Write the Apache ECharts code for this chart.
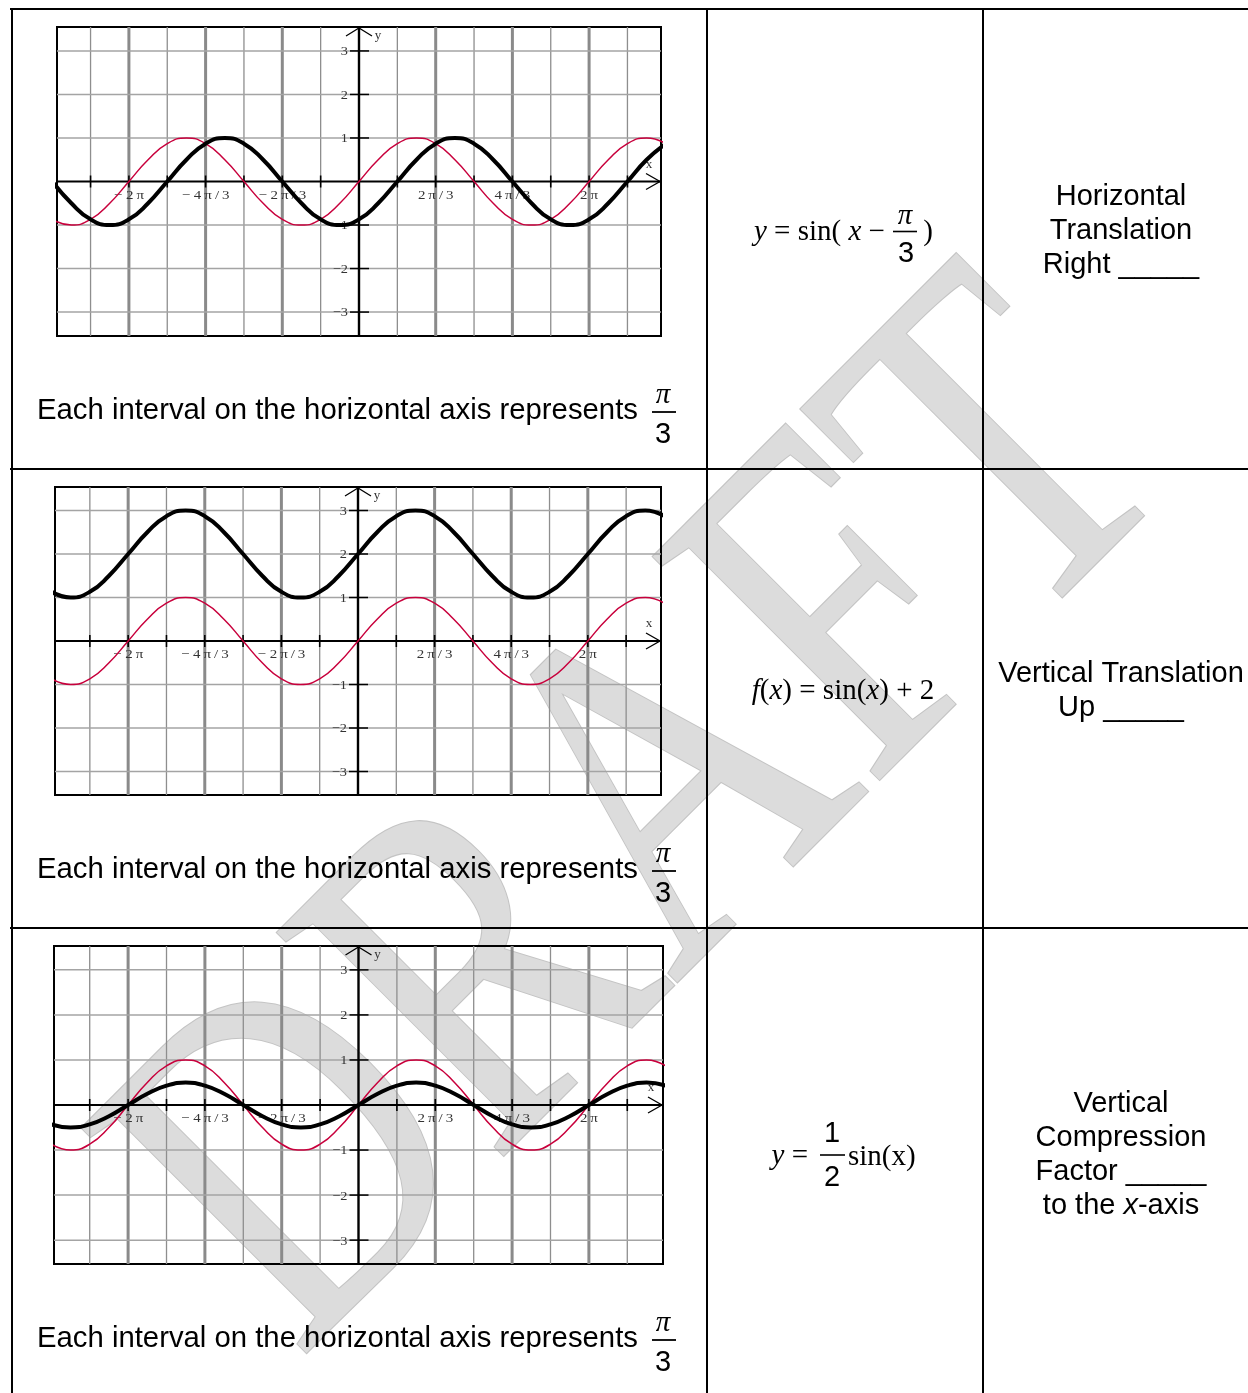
<!DOCTYPE html>
<html>
<head>
<meta charset="utf-8">
<title>Transformations of y = sin(x)</title>
<script src="https://cdn.jsdelivr.net/npm/echarts@6/dist/echarts.min.js"></script>
<style>
  html, body { margin: 0; padding: 0; background: #fff; }
  #sheet { width: 1248px; height: 1393px; }
</style>
</head>
<body>
<div id="sheet"></div>
<script>
// x positions in units of pi/3 (one grid interval each)
const xUnits = [-8,-7.5,-7,-6.5,-6,-5.5,-5,-4.5,-4,-3.5,-3,-2.5,-2,-1.5,-1,-0.5,0,0.5,1,1.5,2,2.5,3,3.5,4,4.5,5,5.5,6,6.5,7,7.5,8];
// parent curve y = sin(x)
const sinValues = [-0.87,-1,-0.87,-0.5,0,0.5,0.87,1,0.87,0.5,0,-0.5,-0.87,-1,-0.87,-0.5,0,0.5,0.87,1,0.87,0.5,0,-0.5,-0.87,-1,-0.87,-0.5,0,0.5,0.87,1,0.87];
// y = sin(x - pi/3)
const shiftedValues = [0,-0.5,-0.87,-1,-0.87,-0.5,0,0.5,0.87,1,0.87,0.5,0,-0.5,-0.87,-1,-0.87,-0.5,0,0.5,0.87,1,0.87,0.5,0,-0.5,-0.87,-1,-0.87,-0.5,0,0.5,0.87];
// f(x) = sin(x) + 2
const raisedValues = [1.13,1,1.13,1.5,2,2.5,2.87,3,2.87,2.5,2,1.5,1.13,1,1.13,1.5,2,2.5,2.87,3,2.87,2.5,2,1.5,1.13,1,1.13,1.5,2,2.5,2.87,3,2.87];
// y = 1/2 sin(x)
const halvedValues = [-0.43,-0.5,-0.43,-0.25,0,0.25,0.43,0.5,0.43,0.25,0,-0.25,-0.43,-0.5,-0.43,-0.25,0,0.25,0.43,0.5,0.43,0.25,0,-0.25,-0.43,-0.5,-0.43,-0.25,0,0.25,0.43,0.5,0.43];

// axis ticks and labels
const xTickUnits = [-7,-6,-5,-4,-3,-2,-1,1,2,3,4,5,6,7];
const xLabelUnits = [-6,-4,-2,2,4,6];
const xLabelTexts = ['\u2212 2\u2009\u03c0', '\u2212 4\u2009\u03c0\u2009/\u20093', '\u2212 2\u2009\u03c0\u2009/\u20093', '2\u2009\u03c0\u2009/\u20093', '4\u2009\u03c0\u2009/\u20093', '2\u2009\u03c0'];
const yTickValues = [-3,-2,-1,1,2,3];
const yLabelTexts = ['\u22123','\u22122','\u22121','1','2','3'];

// layout of the three graph panels
const panels = [
  { left: 57, top: 27,  width: 604, height: 309, xHalf: 7.875, yHalf: 3.55, curve: shiftedValues },
  { left: 55, top: 487, width: 606, height: 308, xHalf: 7.91,  yHalf: 3.54, curve: raisedValues },
  { left: 54, top: 946, width: 609, height: 318, xHalf: 7.93,  yHalf: 3.53, curve: halvedValues }
];

const SERIF = '"Liberation Serif", "Times New Roman", serif';
const SANS = '"Liberation Sans", Arial, sans-serif';

const grids = [], xAxes = [], yAxes = [], series = [];

panels.forEach((p, i) => {
  grids.push({ left: p.left, top: p.top, width: p.width, height: p.height, show: true,
    borderColor: '#000', borderWidth: 2, backgroundColor: 'transparent' });
  xAxes.push({ type: 'value', gridIndex: i, min: -p.xHalf, max: p.xHalf, show: false });
  yAxes.push({ type: 'value', gridIndex: i, min: -p.yHalf, max: p.yHalf, show: false });

  // background grid: kind 0 thin vertical, 1 heavy vertical, 2 horizontal
  const gridData = xTickUnits.map(n => [n, Math.abs(n) % 2 === 0 ? 1 : 0])
    .concat(yTickValues.map(v => [v, 2]));
  series.push({
    type: 'custom', xAxisIndex: i, yAxisIndex: i, z: 1, silent: true,
    data: gridData,
    renderItem: (params, api) => {
      const v = api.value(0), k = api.value(1);
      let a, b;
      if (k === 2) { a = api.coord([-p.xHalf, v]); b = api.coord([p.xHalf, v]); }
      else { a = api.coord([v, -p.yHalf]); b = api.coord([v, p.yHalf]); }
      const style = k === 1 ? { stroke: '#8a8a8a', lineWidth: 3 }
        : k === 0 ? { stroke: '#8e8e8e', lineWidth: 1.3 }
        : { stroke: '#a4a4a4', lineWidth: 1.5 };
      return { type: 'line', shape: { x1: a[0], y1: a[1], x2: b[0], y2: b[1] }, style };
    }
  });

  // axes: kind 0 x tick, 1 y tick, 2 x axis with arrow, 3 y axis with arrow
  const axisData = xTickUnits.map(n => [n, 0])
    .concat(yTickValues.map(v => [v, 1]))
    .concat([[0, 2], [0, 3]]);
  series.push({
    type: 'custom', xAxisIndex: i, yAxisIndex: i, z: 3, silent: true,
    data: axisData,
    renderItem: (params, api) => {
      const v = api.value(0), k = api.value(1);
      const lbl = (x, y, text, align, sx) => ({
        type: 'text', x, y, scaleX: sx,
        style: { text, x: 0, y: 0, font: '13px ' + SERIF, fill: '#333',
          align, verticalAlign: 'middle', textAlign: align, textVerticalAlign: 'middle' }
      });
      if (k === 0) {
        const c = api.coord([v, 0]);
        const children = [{ type: 'line', shape: { x1: c[0], y1: c[1] - 6, x2: c[0], y2: c[1] + 6 },
          style: { stroke: '#000', lineWidth: 1.6 } }];
        const li = xLabelUnits.indexOf(v);
        if (li >= 0) children.push(lbl(c[0], c[1] + 14, xLabelTexts[li], 'center', 1.15));
        return { type: 'group', children };
      }
      if (k === 1) {
        const c = api.coord([0, v]);
        const li = yTickValues.indexOf(v);
        return { type: 'group', children: [
          { type: 'line', shape: { x1: c[0] - 9, y1: c[1], x2: c[0] + 10, y2: c[1] },
            style: { stroke: '#000', lineWidth: 1.5 } },
          lbl(c[0] - 11, c[1] + 1, yLabelTexts[li], 'right', 1.1)
        ] };
      }
      if (k === 2) {
        const a = api.coord([-p.xHalf, 0]), b = api.coord([p.xHalf, 0]);
        return { type: 'group', children: [
          { type: 'line', shape: { x1: a[0], y1: a[1], x2: b[0], y2: b[1] }, style: { stroke: '#000', lineWidth: 2 } },
          { type: 'polyline', shape: { points: [[b[0] - 15, b[1] - 8], [b[0] - 1, b[1]], [b[0] - 15, b[1] + 8]] },
            style: { stroke: '#000', lineWidth: 1.3, fill: null } },
          lbl(b[0] - 12, b[1] - 17, 'x', 'center', 1)
        ] };
      }
      const a = api.coord([0, -p.yHalf]), b = api.coord([0, p.yHalf]);
      return { type: 'group', children: [
        { type: 'line', shape: { x1: a[0], y1: a[1], x2: b[0], y2: b[1] }, style: { stroke: '#000', lineWidth: 2.4 } },
        { type: 'polyline', shape: { points: [[b[0] - 13, b[1] + 9], [b[0], b[1] + 1], [b[0] + 13, b[1] + 9]] },
          style: { stroke: '#000', lineWidth: 1.3, fill: null } },
        lbl(b[0] + 19, b[1] + 9, 'y', 'center', 1)
      ] };
    }
  });

  series.push({
    type: 'line', name: 'sin', xAxisIndex: i, yAxisIndex: i, z: 4,
    data: xUnits.map((x, j) => [x, sinValues[j]]),
    smooth: true, showSymbol: false, silent: true,
    lineStyle: { color: '#c8003c', width: 1.5 }
  });
  series.push({
    type: 'line', name: 'transformed', xAxisIndex: i, yAxisIndex: i, z: 5,
    data: xUnits.map((x, j) => [x, p.curve[j]]),
    smooth: true, showSymbol: false, silent: true,
    lineStyle: { color: '#000', width: 4 }
  });
});

// ---------- table, text and watermark ----------
const elements = [];
const hLine = (x1, x2, y) => elements.push({ type: 'line', z: 10, shape: { x1, y1: y, x2, y2: y }, style: { stroke: '#000', lineWidth: 2 } });
const vLine = (x, y1, y2) => elements.push({ type: 'line', z: 10, shape: { x1: x, y1, x2: x, y2 }, style: { stroke: '#000', lineWidth: 2 } });
const text = (x, y, str, font, align, rich) => elements.push({
  type: 'text', z: 10, x, y,
  style: { text: str, x: 0, y: 0, font, fill: '#000', align: align || 'center', verticalAlign: 'middle',
    textAlign: align || 'center', textVerticalAlign: 'middle', rich: rich }
});

// watermark behind everything (stretched, word-art style)
elements.push({
  type: 'text', z: -1, x: 652, y: 827, rotation: Math.PI / 4, scaleX: 0.89, scaleY: 1.13,
  style: { text: 'DRAFT', x: 0, y: 0, font: '430px ' + SERIF, fill: '#dcdcdc', stroke: '#c4c4c4', lineWidth: 2,
    align: 'center', verticalAlign: 'middle', textAlign: 'center', textVerticalAlign: 'middle' }
});

hLine(10, 1248, 9);
vLine(12, 9, 1393);
vLine(707, 9, 1393);
vLine(983, 9, 1393);
hLine(10, 1248, 469);
hLine(10, 1248, 928);

const F29S = '29px ' + SANS;
const F29R = '29px ' + SERIF;
const italic = { i: { fontStyle: 'italic', fontSize: 29, fontFamily: SERIF, fill: '#000' } };

// caption with pi/3 fraction in each row
[0, 459, 928].forEach(dy => {
  text(37, 411 + dy, 'Each interval on the horizontal axis represents', '29.3px ' + SANS, 'left');
  text(663, 395 + dy, '\u03c0', 'italic 29px ' + SERIF);
  elements.push({ type: 'line', z: 10, shape: { x1: 652, y1: 412 + dy, x2: 676, y2: 412 + dy }, style: { stroke: '#000', lineWidth: 1.8 } });
  text(663, 435 + dy, '3', F29S);
});

// row 1: horizontal translation
text(754, 232, '{i|y} = sin( {i|x} \u2212', F29R, 'left', italic);
text(905, 216, '\u03c0', 'italic 29px ' + SERIF);
elements.push({ type: 'line', z: 10, shape: { x1: 893, y1: 231.5, x2: 917, y2: 231.5 }, style: { stroke: '#000', lineWidth: 1.6 } });
text(906, 254, '3', F29S);
text(928, 232, ')', F29R);
text(1121, 197, 'Horizontal', F29S);
text(1121, 231, 'Translation', F29S);
text(1121, 265, 'Right _____', F29S);

// row 2: vertical translation
text(843, 691, '{i|f}({i|x}) = sin({i|x}) + 2', F29R, 'center', italic);
text(1121, 674, 'Vertical Translation', F29S);
text(1121, 708, 'Up _____', F29S);

// row 3: vertical compression
text(808, 1156, '{i|y} =', F29R, 'right', italic);
text(832, 1134, '1', F29S);
elements.push({ type: 'line', z: 10, shape: { x1: 820, y1: 1155, x2: 845, y2: 1155 }, style: { stroke: '#000', lineWidth: 1.6 } });
text(832, 1178, '2', F29S);
text(848, 1157, 'sin(x)', F29R, 'left');
text(1121, 1104, 'Vertical', F29S);
text(1121, 1138, 'Compression', F29S);
text(1121, 1172, 'Factor _____', F29S);
text(1121, 1206, 'to the {i|x}-axis', F29S, 'center',
  { i: { fontStyle: 'italic', fontSize: 29, fontFamily: SANS, fill: '#000' } });

const chart = echarts.init(document.getElementById('sheet'), null, { renderer: 'canvas', width: 1248, height: 1393 });
chart.setOption({
  backgroundColor: '#fff',
  animation: false,
  grid: grids,
  xAxis: xAxes,
  yAxis: yAxes,
  graphic: { elements },
  series
});
</script>
</body>
</html>
